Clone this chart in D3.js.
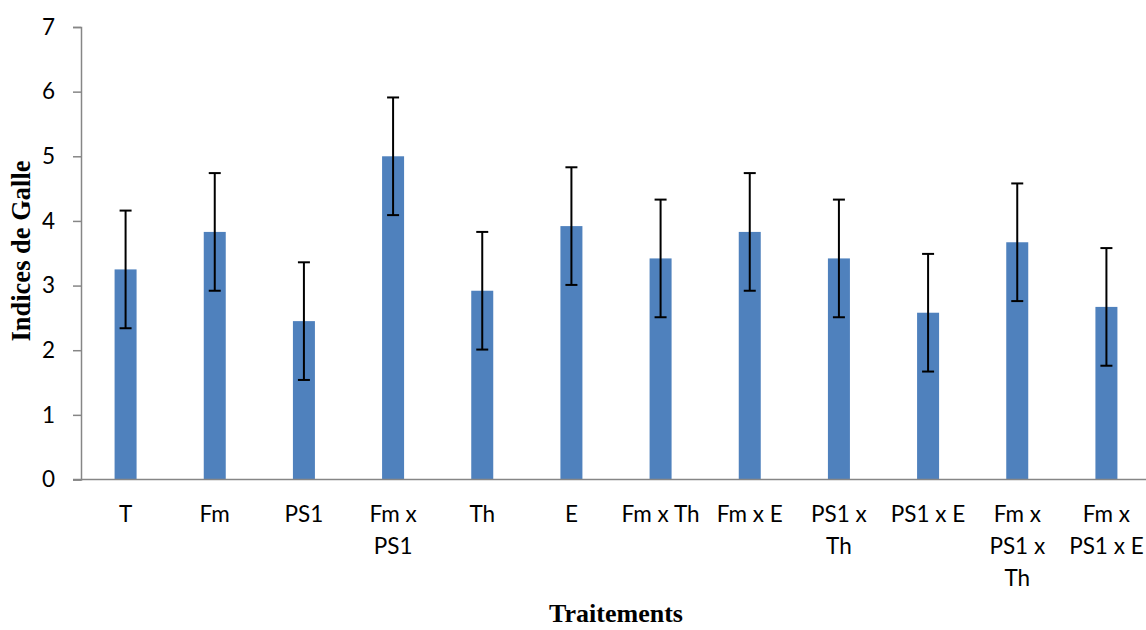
<!DOCTYPE html>
<html>
<head>
<meta charset="utf-8">
<script src="https://cdn.jsdelivr.net/npm/d3@7"></script>
<style>
  body { margin: 0; background: #fff; }
  svg { display: block; }
</style>
</head>
<body>
<div id="chart"></div>
<script>
// categories (line breaks follow the wrapped axis labels)
const categories = [
  'T', 'Fm', 'PS1', 'Fm x\nPS1', 'Th', 'E', 'Fm x Th', 'Fm x E',
  'PS1 x\nTh', 'PS1 x E', 'Fm x\nPS1 x\nTh', 'Fm x\nPS1 x E'
];
const means  = [3.25, 3.83, 2.45, 5.0, 2.92, 3.92, 3.42, 3.83, 3.42, 2.58, 3.67, 2.67];
const errors = [0.91, 0.91, 0.91, 0.91, 0.91, 0.91, 0.91, 0.91, 0.91, 0.91, 0.91, 0.91];
const yTicks = [0, 1, 2, 3, 4, 5, 6, 7];

const W = 1146, H = 630;
const margin = { top: 27, left: 81 };
const plotRight = 1151;

const svg = d3.select('#chart').append('svg')
  .attr('width', W).attr('height', H);

const x = d3.scaleBand().domain(categories).range([margin.left, plotRight]);
const y = d3.scaleLinear().domain([0, 7]).range([479.5, margin.top]);

const barW = 22;
const capW = 12;
const axisColor = '#868686';
const tickFont = 'Lato, "Open Sans", sans-serif';
const titleFont = '"Liberation Serif", "Times New Roman", serif';

/* -------- bars -------- */
svg.append('g').selectAll('rect').data(means).enter().append('rect')
  .attr('x', (d, i) => x(categories[i]) + x.bandwidth() / 2 - barW / 2)
  .attr('y', d => y(d))
  .attr('width', barW)
  .attr('height', d => y(0) - y(d))
  .attr('fill', '#4F81BD');

/* -------- error bars -------- */
const eb = svg.append('g').attr('stroke', '#000').attr('stroke-width', 2);
means.forEach((m, i) => {
  const cx = x(categories[i]) + x.bandwidth() / 2;
  const top = y(m + errors[i]), bot = y(m - errors[i]);
  eb.append('line').attr('x1', cx).attr('x2', cx).attr('y1', top).attr('y2', bot);
  eb.append('line').attr('x1', cx - capW / 2).attr('x2', cx + capW / 2).attr('y1', top).attr('y2', top);
  eb.append('line').attr('x1', cx - capW / 2).attr('x2', cx + capW / 2).attr('y1', bot).attr('y2', bot);
});

/* -------- y axis -------- */
const yAxis = svg.append('g')
  .attr('transform', `translate(${margin.left},0)`)
  .call(d3.axisLeft(y).tickValues(yTicks).tickFormat(d3.format('d')).tickSize(8).tickPadding(18));
yAxis.select('.domain').attr('stroke', axisColor).attr('stroke-width', 1.5);
yAxis.selectAll('.tick line').attr('stroke', axisColor).attr('stroke-width', 1.5);
yAxis.selectAll('.tick text')
  .style('font-family', tickFont)
  .style('font-size', '22.5px')
  .attr('fill', '#000');

/* -------- x axis -------- */
svg.append('line')
  .attr('x1', margin.left - 8).attr('x2', plotRight)
  .attr('y1', y(0)).attr('y2', y(0))
  .attr('stroke', axisColor).attr('stroke-width', 1.5);

const xl = svg.append('g')
  .style('font-family', tickFont)
  .style('font-size', '22.5px')
  .attr('fill', '#000')
  .attr('text-anchor', 'middle');
categories.forEach(c => {
  const cx = x(c) + x.bandwidth() / 2;
  const t = xl.append('text').attr('x', cx).attr('y', 522);
  c.split('\n').forEach((line, j) => {
    t.append('tspan')
      .attr('x', cx)
      .attr('dy', j === 0 ? 0 : 32)
      .text(line);
  });
});

/* -------- axis titles -------- */
svg.append('text')
  .attr('x', 616).attr('y', 622)
  .attr('text-anchor', 'middle')
  .style('font-family', titleFont)
  .style('font-weight', 'bold')
  .style('font-size', '26px')
  .text('Traitements');

svg.append('text')
  .attr('transform', 'translate(30,251) rotate(-90)')
  .attr('text-anchor', 'middle')
  .style('font-family', titleFont)
  .style('font-weight', 'bold')
  .style('font-size', '26.5px')
  .text('Indices de Galle');
</script>
</body>
</html>
